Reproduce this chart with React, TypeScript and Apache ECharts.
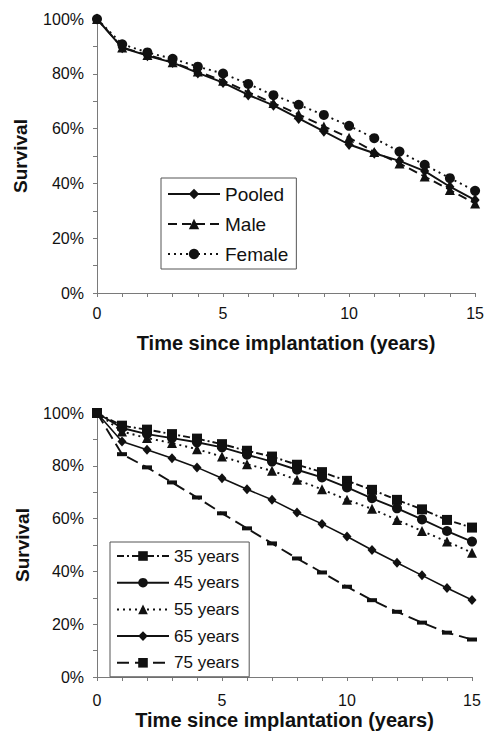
import React, { useEffect, useRef } from "react";
import * as echarts from "echarts";

const years = [0, 1, 2, 3, 4, 5, 6, 7, 8, 9, 10, 11, 12, 13, 14, 15];

// Top panel (survival %, by sex)
const pooled = [100, 89.5, 86.6, 84.1, 80.3, 76.8, 72.3, 68.5, 63.7, 59.0, 54.2, 51.0, 48.2, 44.5, 38.8, 33.9];
const male = [100, 89.6, 86.9, 84.2, 80.8, 77.5, 73.3, 69.3, 65.2, 60.8, 56.7, 51.5, 47.3, 42.5, 37.6, 32.7];
const female = [100, 90.8, 87.8, 85.5, 82.6, 80.1, 76.3, 72.2, 68.7, 65.0, 61.0, 56.5, 51.6, 46.8, 41.9, 37.3];

// Bottom panel (survival %, by age at implantation)
const age35 = [100, 95.2, 93.7, 92.0, 90.3, 88.2, 85.7, 83.5, 80.4, 77.6, 74.3, 70.9, 67.1, 63.5, 59.5, 56.6];
const age45 = [100, 94.3, 92.0, 90.5, 88.9, 87.0, 84.2, 81.6, 78.5, 75.6, 71.8, 67.7, 63.9, 59.7, 55.3, 51.3];
const age55 = [100, 93.0, 90.5, 88.6, 86.3, 83.5, 80.6, 78.1, 74.7, 71.1, 67.1, 63.7, 59.5, 55.3, 51.3, 47.1];
const age65 = [100, 89.2, 86.1, 82.9, 79.4, 75.3, 71.1, 67.1, 62.3, 58.0, 53.2, 48.1, 43.3, 38.5, 33.7, 29.2];
const age75 = [100, 84.4, 79.4, 73.7, 68.0, 62.0, 56.3, 50.6, 44.9, 39.6, 34.2, 29.1, 24.7, 20.6, 16.8, 14.2];

const topNames = ["Pooled", "Male", "Female"];
const bottomNames = ["35 years", "45 years", "55 years", "65 years", "75 years"];

const FONT = "'Liberation Sans', Arial, Helvetica, sans-serif";
const INK = "#111";
const AXIS = "#7a7a7a";

const pairs = (vals: number[]) => years.map((y, i) => [y, vals[i]]);

export default function App() {
  const ref = useRef<HTMLDivElement>(null);

  useEffect(() => {
    if (!ref.current) return;
    const chart = echarts.init(ref.current, undefined, { renderer: "svg" });

    const xAxisBase = (gridIndex: number, labelMargin: number, nameGap: number) => ({
      type: "value",
      gridIndex,
      min: 0,
      max: 15,
      interval: 1,
      name: "Time since implantation (years)",
      nameLocation: "middle",
      nameGap,
      nameTextStyle: { fontFamily: FONT, fontSize: 20, fontWeight: "bold", color: INK },
      axisLine: { show: true, onZero: false, lineStyle: { color: AXIS, width: 1 } },
      axisTick: { show: true, length: 4, lineStyle: { color: AXIS } },
      axisLabel: {
        fontFamily: FONT,
        fontSize: 16,
        color: INK,
        margin: labelMargin,
        formatter: (v: number) => (v % 5 === 0 ? String(v) : ""),
      },
      splitLine: { show: false },
    });

    const yAxisBase = (gridIndex: number, nameGap: number) => ({
      type: "value",
      gridIndex,
      min: 0,
      max: 100,
      interval: 10,
      name: "Survival",
      nameLocation: "middle",
      nameRotate: 90,
      nameGap,
      nameTextStyle: { fontFamily: FONT, fontSize: 19, fontWeight: "bold", color: INK },
      axisLine: { show: true, lineStyle: { color: AXIS, width: 1 } },
      axisTick: { show: true, length: 4, lineStyle: { color: AXIS } },
      axisLabel: {
        fontFamily: FONT,
        fontSize: 16,
        color: INK,
        margin: 13,
        formatter: (v: number) => (v % 20 === 0 ? v + "%" : ""),
      },
      splitLine: { show: false },
    });

    const line = (
      name: string,
      vals: number[],
      idx: number,
      symbol: string,
      symbolSize: number | number[],
      type: any,
      width = 1.9
    ) => ({
      type: "line",
      name,
      xAxisIndex: idx,
      yAxisIndex: idx,
      data: pairs(vals),
      symbol,
      symbolSize,
      showSymbol: true,
      itemStyle: { color: INK, borderWidth: 0 },
      lineStyle: { color: INK, width, type },
      emphasis: { disabled: true },
    });

    const option: any = {
      animation: false,
      backgroundColor: "#fff",
      grid: [
        { left: 97, top: 19, width: 381, height: 274 },
        { left: 97, top: 413, width: 375, height: 264 },
      ],
      xAxis: [xAxisBase(0, 12, 40), xAxisBase(1, 15, 33)],
      yAxis: [yAxisBase(0, 67), yAxisBase(1, 64)],
      legend: [
        {
          data: topNames,
          orient: "vertical",
          left: 161,
          top: 178,
          itemWidth: 52,
          itemHeight: 13,
          itemGap: 10,
          padding: [6, 8, 5, 6],
          borderColor: "#555",
          borderWidth: 1,
          backgroundColor: "#fff",
          textStyle: { fontFamily: FONT, fontSize: 19, color: INK, lineHeight: 20 },
          selectedMode: false,
        },
        {
          data: bottomNames,
          orient: "vertical",
          left: 110,
          top: 542,
          itemWidth: 52,
          itemHeight: 12,
          itemGap: 8.7,
          padding: [5, 10, 5, 6],
          borderColor: "#555",
          borderWidth: 1,
          backgroundColor: "#fff",
          textStyle: { fontFamily: FONT, fontSize: 17, color: INK, lineHeight: 18 },
          selectedMode: false,
        },
      ],
      series: [
        line("Pooled", pooled, 0, "diamond", [9, 11], "solid"),
        line("Male", male, 0, "triangle", 10, [9, 5]),
        line("Female", female, 0, "circle", 10, [2, 4]),
        line("35 years", age35, 1, "rect", 10, [7, 3, 2, 3]),
        line("45 years", age45, 1, "circle", 10, "solid"),
        line("55 years", age55, 1, "triangle", 10, [2, 4]),
        line("65 years", age65, 1, "diamond", [9, 10], "solid", 1.6),
        line("75 years", age75, 1, "rect", [10, 4], [12, 6]),
      ],
    };

    chart.setOption(option);
    return () => chart.dispose();
  }, []);

  return (
    <div
      ref={ref}
      style={{ position: "absolute", left: 0, top: 0, width: 487, height: 732, background: "#fff" }}
    />
  );
}
